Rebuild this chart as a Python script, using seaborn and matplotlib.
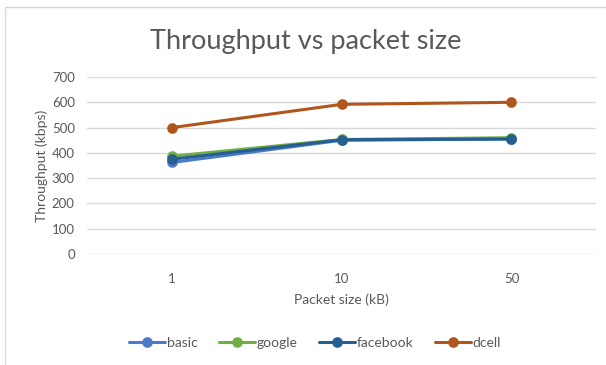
import matplotlib
matplotlib.use("Agg")
import matplotlib.pyplot as plt
import seaborn as sns
import pandas as pd
from matplotlib.patches import Rectangle

packet_sizes = ["1", "10", "50"]
basic = [362, 450, 455]
google = [387, 453, 460]
facebook = [375, 452, 455]
dcell = [500, 592, 600]

series_names = ["basic", "google", "facebook", "dcell"]
colors = ["#4A7BC8", "#70AD47", "#255E91", "#B0561C"]

df = pd.DataFrame({
    "size": packet_sizes * 4,
    "tput": basic + google + facebook + dcell,
    "series": sum([[n] * 3 for n in series_names], []),
})

sns.set_theme(style="white")
plt.rcParams["font.family"] = ["Lato", "DejaVu Sans"]

fig = plt.figure(figsize=(6.06, 3.65), dpi=100)
ax = fig.add_axes([0.144, 0.304, 0.840, 0.485])

sns.pointplot(data=df, x="size", y="tput", hue="series", order=packet_sizes,
              hue_order=series_names, palette=colors, markers="o",
              linewidth=2.2, markersize=6, ax=ax, errorbar=None)

ax.set_xlim(-0.5, 2.5)
ax.set_ylim(0, 700)
ax.set_yticks(range(0, 701, 100))
ax.grid(axis="y", color="#D9D9D9", linewidth=1)
ax.set_axisbelow(True)
for s in ax.spines.values():
    s.set_visible(False)
ax.tick_params(axis="y", length=0, labelsize=9.5, colors="#595959", pad=9)
ax.tick_params(axis="x", length=0, labelsize=9.5, colors="#595959", pad=14)

ax.set_xlabel("Packet size (kB)", fontsize=10, color="#595959", labelpad=6)
ax.set_ylabel("Throughput (kbps)", fontsize=10, color="#595959", labelpad=3)
fig.text(0.505, 0.885, "Throughput vs packet size", ha="center", va="center",
         fontsize=19.5, color="#595959")

handles, labels = ax.get_legend_handles_labels()
ax.legend(handles, labels, loc="center", bbox_to_anchor=(0.52, 0.06),
          bbox_transform=fig.transFigure, ncol=4, frameon=False,
          fontsize=10, labelcolor="#595959", handlelength=2.6,
          handletextpad=0.15, columnspacing=1.5)

fig.patches.append(Rectangle((5 / 606, -0.02), 1.1, 1 - 7 / 365 + 0.02,
                             transform=fig.transFigure, fill=False,
                             edgecolor="#D9D9D9", linewidth=1))

fig.savefig("out.png", dpi=100)
